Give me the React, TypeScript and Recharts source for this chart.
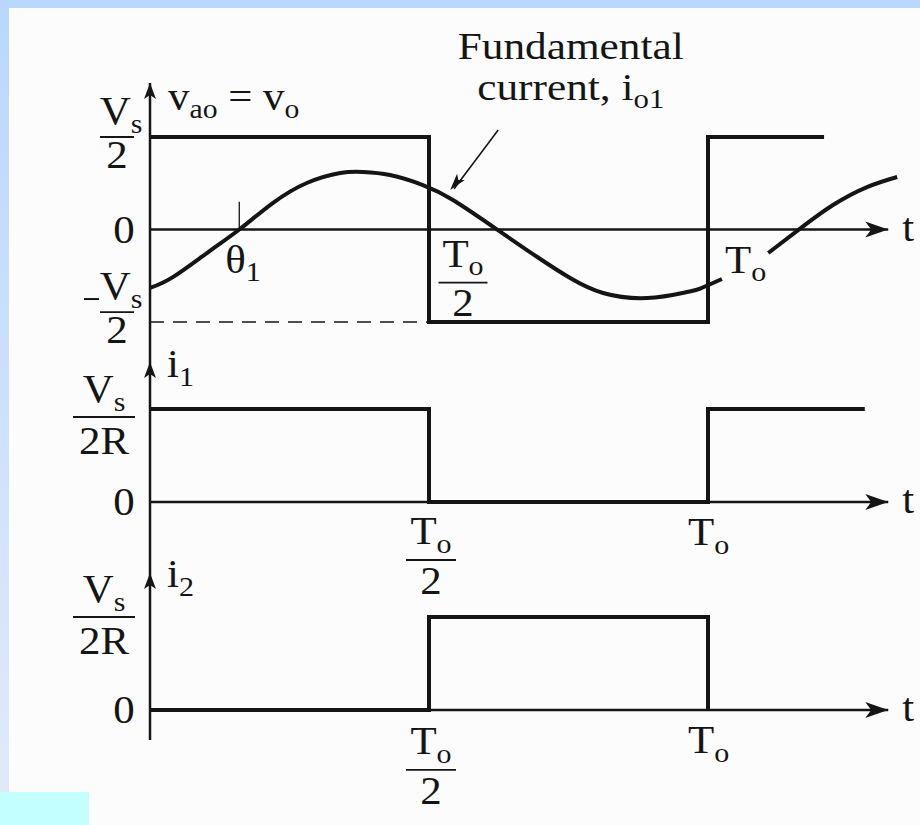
import React from 'react'
import { LineChart, Line, XAxis, YAxis, ReferenceLine, ReferenceDot } from 'recharts'

const INK = '#151515'
const FONT = '"Liberation Serif", "Times New Roman", serif'
const W = 920
const H = 825
const AXIS_X = 150
const PX_PER_PERIOD = 558

// time axis, in units of the period T_o
const T_END = 1.36
const T_ARROW = 1.323

// v_ao = v_o, in units of V_s/2
const vaoT = [0, 0.5, 0.5, 1, 1, 1.208]
const vaoV = [1, 1, -1, -1, 1, 1]

// fundamental current i_o1 (same units); the gap is where the T_o label sits
const io1T = [0, 0.041, 0.102, 0.16, 0.22, 0.281, 0.341, 0.382, 0.43, 0.489, 0.543, 0.622, 0.694, 0.753, 0.812, 0.891, 0.962, 0.986, 1.025, 1.06, 1.108, 1.165, 1.224, 1.285, 1.339]
const io1V = [-0.632, -0.514, -0.254, 0, 0.286, 0.503, 0.611, 0.622, 0.589, 0.481, 0.319, 0, -0.297, -0.524, -0.686, -0.741, -0.676, -0.638, -0.535, null, -0.254, 0.01, 0.265, 0.459, 0.568]

// switch currents, in units of V_s/2R
const i1T = [0, 0.5, 0.5, 1, 1, 1.281]
const i1V = [1, 1, 0, 0, 1, 1]
const i2T = [0, 0.5, 0.5, 1, 1]
const i2V = [0, 0, 1, 1, 0]

const THETA1 = 0.16

const zip = (ts: number[], vs: (number | null)[]) => ts.map((t, i) => ({ t, v: vs[i] }))

const vao = zip(vaoT, vaoV)
const io1 = zip(io1T, io1V)
const i1 = zip(i1T, i1V)
const i2 = zip(i2T, i2V)

const FS = 39
const SX = 1.1 // the figure's lettering runs a little wide

// text with a lowered subscript, widened about its anchor point
function Sym({ x, y, main, sub, size = FS, anchor = 'start', sx = SX }: any) {
  return (
    <text
      transform={`translate(${x} ${y}) scale(${sx} 1)`}
      fontSize={size}
      fontFamily={FONT}
      fill={INK}
      textAnchor={anchor}
    >
      {main}
      {sub ? (
        <tspan fontSize={size * 0.7} dy={size * 0.22}>
          {sub}
        </tspan>
      ) : null}
    </text>
  )
}

function Frac({ cx, bar, width, num, numSub, den, up = 14, down = 32, numDx = 0 }: any) {
  return (
    <g>
      <Sym x={cx + numDx} y={bar - up} main={num} sub={numSub} anchor="middle" />
      <line x1={cx - width / 2} x2={cx + width / 2} y1={bar} y2={bar} stroke={INK} strokeWidth={1.8} />
      <Sym x={cx} y={bar + down} main={den} anchor="middle" />
    </g>
  )
}

const upHead = (p: any) => <path d={`M${p.cx},${p.cy} l-6,16 l6,-4 l6,4 z`} fill={INK} />
const rightHead = (p: any) => <path d={`M${p.cx},${p.cy} l-23,-8 l6,8 l-6,8 z`} fill={INK} />

const voltTick = (p: any) => {
  const { x, y, payload } = p
  if (payload.value === 0) return <Sym x={x - 26} y={y + 13} main="0" anchor="middle" />
  if (payload.value > 0)
    return <Frac cx={x - 33} bar={y} width={34} num="V" numSub="s" den="2" up={13} down={31} numDx={4} />
  return (
    <g>
      <line x1={84} x2={99} y1={y - 23} y2={y - 23} stroke={INK} strokeWidth={2} />
      <Frac cx={x - 33} bar={y - 10} width={34} num="V" numSub="s" den="2" up={13} down={31} numDx={4} />
    </g>
  )
}

const currentTick = (shift: number) => (p: any) => {
  const { x, y, payload } = p
  if (payload.value === 0) return <Sym x={x - 26} y={y + 13} main="0" anchor="middle" />
  return <Frac cx={x - 46} bar={y + shift} width={62} num="V" numSub="s" den="2R" up={15} down={37} />
}

function Panel({ top, bottom, domain, ticks, tick, children }: any) {
  return (
    <div style={{ position: 'absolute', left: 0, top: 0 }}>
      <LineChart
        width={W}
        height={H}
        margin={{ top, bottom: H - bottom, left: 0, right: W - AXIS_X - PX_PER_PERIOD * T_END }}
      >
        <XAxis type="number" dataKey="t" domain={[0, T_END]} hide allowDataOverflow />
        <YAxis
          type="number"
          width={AXIS_X}
          domain={domain}
          allowDataOverflow
          ticks={ticks}
          tick={tick}
          tickLine={false}
          tickSize={0}
          tickMargin={0}
          axisLine={{ stroke: INK, strokeWidth: 2.5 }}
        />
        <ReferenceLine segment={[{ x: 0, y: 0 }, { x: T_ARROW, y: 0 }]} stroke={INK} strokeWidth={2.5} ifOverflow="visible" />
        <ReferenceDot x={T_ARROW} y={0} r={0} ifOverflow="visible" shape={rightHead} />
        <ReferenceDot x={0} y={domain[1]} r={0} ifOverflow="visible" shape={upHead} />
        <ReferenceDot
          x={T_ARROW}
          y={0}
          r={0}
          ifOverflow="visible"
          shape={(p: any) => <Sym x={p.cx + 14} y={p.cy + 11} main="t" />}
        />
        {children}
      </LineChart>
    </div>
  )
}

const wave = (data: any[], key: string, curved = false) => (
  <Line
    key={key}
    data={data}
    dataKey="v"
    type={curved ? 'natural' : 'linear'}
    stroke={INK}
    strokeWidth={4}
    strokeLinejoin="miter"
    dot={false}
    activeDot={false}
    connectNulls={false}
    isAnimationActive={false}
  />
)

export default function App() {
  return (
    <div
      style={{
        position: 'absolute',
        left: 0,
        top: 0,
        width: W,
        height: H,
        overflow: 'hidden',
        background: 'linear-gradient(#b9d7ff, #e1eafb)',
        fontFamily: FONT,
      }}
    >
      <div style={{ position: 'absolute', left: 9, top: 8, right: 0, bottom: 0, background: '#fcfcfc' }} />
      <div style={{ position: 'absolute', left: 0, top: 792, width: 89, height: 33, background: '#c4ffff' }} />

      {/* output voltage and its fundamental current */}
      <Panel top={83} bottom={362} domain={[-1.432, 1.584]} ticks={[1, 0, -1]} tick={voltTick}>
        <ReferenceLine segment={[{ x: 0, y: -1 }, { x: 0.5, y: -1 }]} stroke={INK} strokeWidth={1.5} strokeDasharray="14 9" />
        <ReferenceLine segment={[{ x: THETA1, y: 0 }, { x: THETA1, y: 0.3 }]} stroke={INK} strokeWidth={1.3} />
        <ReferenceLine segment={[{ x: 0.624, y: 1.076 }, { x: 0.545, y: 0.44 }]} stroke={INK} strokeWidth={1.6} ifOverflow="visible" />
        <ReferenceDot
          x={0.538}
          y={0.427}
          r={0}
          shape={(p: any) => <path d="M0,0 l-17,-5 l4,5 l-4,5 z" fill={INK} transform={`translate(${p.cx},${p.cy}) rotate(129)`} />}
        />
        {wave(vao, 'vao')}
        {wave(io1, 'io1', true)}
        <ReferenceDot
          x={0}
          y={1.584}
          r={0}
          ifOverflow="visible"
          shape={(p: any) => (
            <text transform={`translate(${p.cx + 18} ${p.cy + 27}) scale(${SX} 1)`} fontSize={FS} fontFamily={FONT} fill={INK}>
              v<tspan fontSize={27} dy={8}>ao</tspan>
              <tspan dy={-8}> = v</tspan>
              <tspan fontSize={27} dy={8}>o</tspan>
            </text>
          )}
        />
        <ReferenceDot
          x={0.754}
          y={1.4}
          r={0}
          ifOverflow="visible"
          shape={(p: any) => (
            <g>
              <Sym x={p.cx} y={p.cy - 41} main="Fundamental" size={38} anchor="middle" sx={1.14} />
              <text
                transform={`translate(${p.cx} ${p.cy}) scale(1.14 1)`}
                fontSize={38}
                fontFamily={FONT}
                fill={INK}
                textAnchor="middle"
              >
                current, i<tspan fontSize={27} dy={8}>o1</tspan>
              </text>
            </g>
          )}
        />
        <ReferenceDot
          x={THETA1}
          y={0}
          r={0}
          shape={(p: any) => <Sym x={p.cx - 14} y={p.cy + 43} main="θ" sub="1" />}
        />
        <ReferenceDot
          x={0.5}
          y={0}
          r={0}
          shape={(p: any) => <Frac cx={p.cx + 34} bar={p.cy + 53} width={49} num="T" numSub="o" den="2" up={16} down={33} />}
        />
        <ReferenceDot x={1} y={0} r={0} shape={(p: any) => <Sym x={p.cx + 17} y={p.cy + 43} main="T" sub="o" />} />
      </Panel>

      {/* switch current i1 */}
      <Panel top={362} bottom={573} domain={[-0.763, 1.505]} ticks={[1, 0]} tick={currentTick(8)}>
        {wave(i1, 'i1')}
        <ReferenceDot x={0} y={1.505} r={0} ifOverflow="visible" shape={(p: any) => <Sym x={p.cx + 17} y={p.cy + 15} main="i" sub="1" />} />
        <ReferenceDot
          x={0.5}
          y={0}
          r={0}
          ifOverflow="visible"
          shape={(p: any) => <Frac cx={p.cx + 2} bar={p.cy + 58} width={50} num="T" numSub="o" den="2" up={16} down={34} />}
        />
        <ReferenceDot x={1} y={0} r={0} ifOverflow="visible" shape={(p: any) => <Sym x={p.cx - 20} y={p.cy + 43} main="T" sub="o" />} />
      </Panel>

      {/* switch current i2 */}
      <Panel top={573} bottom={740} domain={[-0.323, 1.473]} ticks={[1, 0]} tick={currentTick(0)}>
        {wave(i2, 'i2')}
        <ReferenceDot x={0} y={1.473} r={0} ifOverflow="visible" shape={(p: any) => <Sym x={p.cx + 17} y={p.cy + 14} main="i" sub="2" />} />
        <ReferenceDot
          x={0.5}
          y={0}
          r={0}
          ifOverflow="visible"
          shape={(p: any) => <Frac cx={p.cx + 2} bar={p.cy + 60} width={50} num="T" numSub="o" den="2" up={16} down={34} />}
        />
        <ReferenceDot x={1} y={0} r={0} ifOverflow="visible" shape={(p: any) => <Sym x={p.cx - 20} y={p.cy + 43} main="T" sub="o" />} />
      </Panel>
    </div>
  )
}
